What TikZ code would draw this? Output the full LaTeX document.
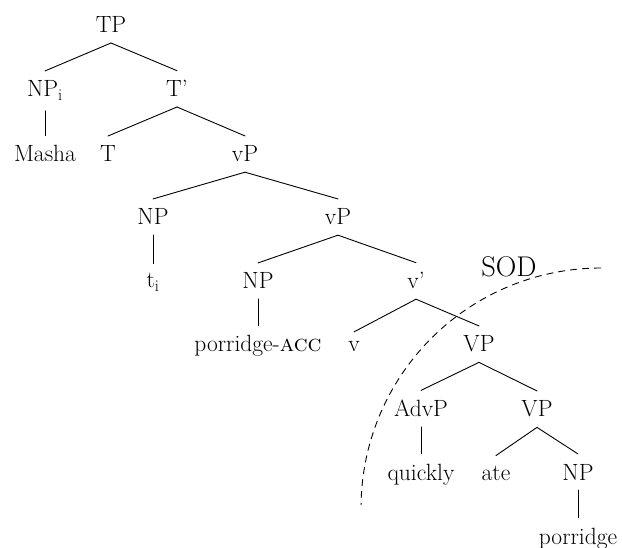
\documentclass[tikz,border=0pt]{standalone}
\usepackage{fontspec}
\begin{document}
\begin{tikzpicture}[x=1pt,y=-1pt,
  tn/.style={anchor=base, inner xsep=1pt, inner ysep=9.8pt, font=\fontsize{23.5}{28}\selectfont},
  sodlabel/.style={anchor=base, inner sep=0pt, font=\fontsize{28.5}{32}\selectfont},
  edge/.style={line width=0.9pt, line cap=round},
  sodline/.style={line width=0.9pt, dash pattern=on 7pt off 5pt}]
\useasboundingbox (0,0) rectangle (622,548);
\clip (0,0) rectangle (622,548);
% nodes
\node[tn] (TP) at (111,33) {TP};
\node[tn] (NPi) at (45,97) {NP\textsubscript{i}};
\node[tn] (Tbar) at (177,97) {T’};
\node[tn] (Masha) at (45,162) {Masha};
\node[tn] (T) at (108,162) {T};
\node[tn] (vP1) at (245,162) {vP};
\node[tn] (NP2) at (153,225) {NP};
\node[tn] (vP2) at (338,225) {vP};
\node[tn] (ti) at (153,288) {t\textsubscript{i}};
\node[tn] (NP3) at (258,289) {NP};
\node[tn] (vbar) at (416,289) {v’};
\node[tn] (pacc) at (258,352) {porridge-\textsc{acc}};
\node[tn] (v) at (354,352) {v};
\node[tn] (VP1) at (479,352) {VP};
\node[tn] (AdvP) at (421,417) {AdvP};
\node[tn] (VP2) at (537,417) {VP};
\node[tn] (quickly) at (421,480) {quickly};
\node[tn] (ate) at (496,480) {ate};
\node[tn] (NP4) at (578,480) {NP};
\node[tn] (porr) at (578,544) {porridge};
\node[sodlabel] (SOD) at (509,277) {SOD};
% edges
\draw[edge] (TP.south) -- (NPi.north);
\draw[edge] (TP.south) -- (Tbar.north);
\draw[edge] (NPi.south) -- (Masha.north);
\draw[edge] (Tbar.south) -- (T.north);
\draw[edge] (Tbar.south) -- (vP1.north);
\draw[edge] (vP1.south) -- (NP2.north);
\draw[edge] (vP1.south) -- (vP2.north);
\draw[edge] (NP2.south) -- (ti.north);
\draw[edge] (vP2.south) -- (NP3.north);
\draw[edge] (vP2.south) -- (vbar.north);
\draw[edge] (NP3.south) -- (pacc.north);
\draw[edge] (vbar.south) -- (v.north);
\draw[edge] (vbar.south) -- (VP1.north);
\draw[edge] (VP1.south) -- (AdvP.north);
\draw[edge] (VP1.south) -- (VP2.north);
\draw[edge] (AdvP.south) -- (quickly.north);
\draw[edge] (VP2.south) -- (ate.north);
\draw[edge] (VP2.south) -- (NP4.north);
\draw[edge] (NP4.south) -- (porr.north);
% SOD boundary
\draw[sodline] plot[domain=90:179.3, samples=90] ({601+240*cos(\x)},{508-240*sin(\x)});
\end{tikzpicture}
\end{document}
